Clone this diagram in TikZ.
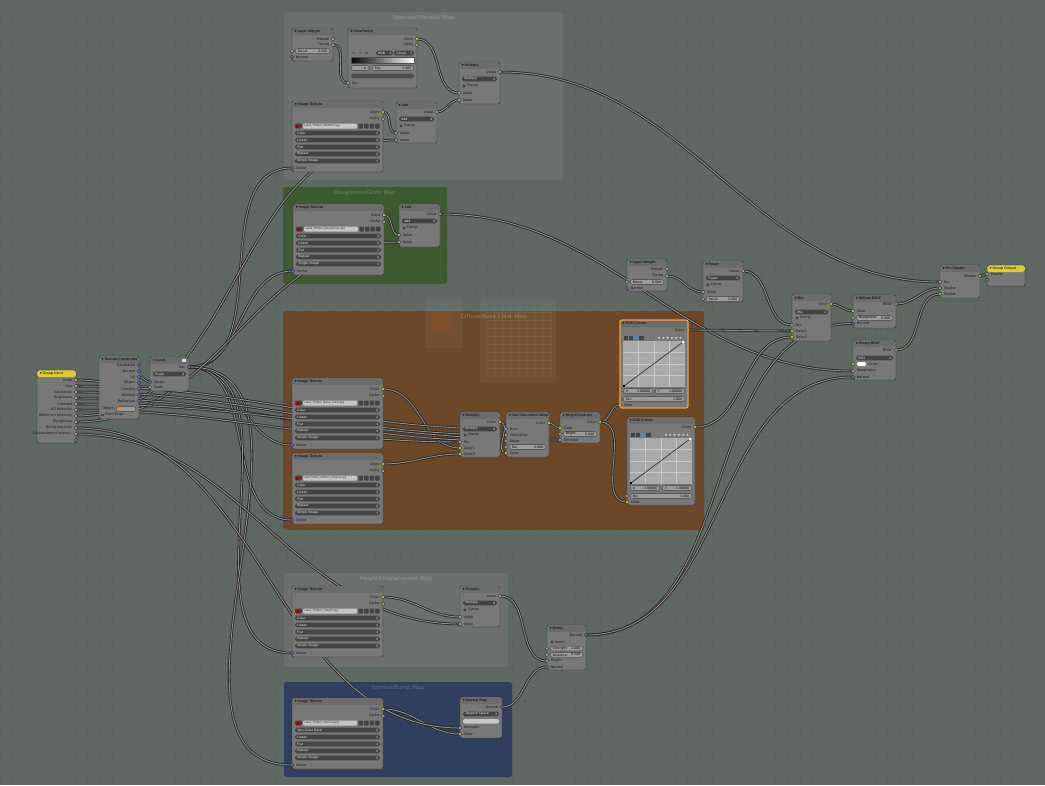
\documentclass[tikz,border=0pt]{standalone}
\usepackage{fontspec}
\setmainfont{DejaVu Sans}
\pgfdeclarelayer{back}
\pgfdeclarelayer{links}
\pgfsetlayers{back,links,main}

\definecolor{bgc}{HTML}{5D6962}
\definecolor{gridc}{HTML}{59655E}
\definecolor{frgray}{HTML}{6E7270}
\definecolor{frgreen}{HTML}{3B5A2C}
\definecolor{frbrown}{HTML}{6E4524}
\definecolor{frblue}{HTML}{2C3C5D}
\definecolor{nbodyc}{HTML}{787878}
\definecolor{nheadc}{HTML}{6C6C6C}
\definecolor{ghead}{HTML}{DDCB3C}
\definecolor{nedge}{HTML}{2E2E2E}
\definecolor{dropc}{HTML}{434343}
\definecolor{numc}{HTML}{9C9C9C}
\definecolor{filec}{HTML}{C6C6C6}
\definecolor{curvec}{HTML}{A9A9A9}
\definecolor{scol}{HTML}{C7C729}
\definecolor{sval}{HTML}{A1A1A1}
\definecolor{svec}{HTML}{6363C7}
\definecolor{sshd}{HTML}{63C763}
\definecolor{selc}{HTML}{F2A13C}
\definecolor{wireout}{HTML}{242424}
\definecolor{wirein}{HTML}{8E8E8E}
\definecolor{tabblue}{HTML}{5680C2}

\tikzset{
  nbody/.style={draw=nedge, line width=0.35pt, fill=nbodyc, rounded corners=1.5pt, inner sep=0, outer sep=0},
  framebox/.style={rounded corners=2pt, inner sep=0, outer sep=0, fill opacity=.93},
  sock/.style={circle, draw=black!80, line width=0.25pt, inner sep=0, minimum size=2.8pt},
  lbl/.style={font=\fontsize{2.6}{3}\selectfont, text=black!90, inner sep=0},
  ttl/.style={font=\fontsize{2.6}{3}\selectfont, text=black, inner sep=0},
  ftxt/.style={font=\fontsize{2.4}{3}\selectfont, text=white!92!black, inner sep=0},
  ntxt/.style={font=\fontsize{2.4}{3}\selectfont, text=black, inner sep=0},
  fname/.style={font=\fontsize{2.1}{3}\selectfont, text=black!85, inner sep=0},
  frtitle/.style={font=\fontsize{4.2}{5}\selectfont, text=white, text opacity=.25, inner sep=0},
  wire/.style={line width=1.9pt, draw=wireout, line cap=round, postaction={draw=wirein, line width=0.7pt}},
}

% node body with header strip and title
\newcommand\nodebox[7]{%
  \node[nbody, anchor=north west, minimum width=#4*0.75pt, minimum height=#5*0.75pt] (#1) at (#2,#3) {};
  \fill[#7, rounded corners=1.4pt] (#2+0.25,#3+0.25) rectangle (#2+#4-0.25,#3+7);
  \node[ttl, anchor=west] at (#2+2.5,#3+3.7) {▾ #6};
}
% output socket on the right edge, label to its left
\newcommand\outsock[5]{%
  \node[sock, fill=#4] (#1) at (#2,#3) {};
  \node[lbl, anchor=east] at (#2-3.5,#3) {#5};
}
% input socket on the left edge, label to its right
\newcommand\insock[5]{%
  \node[sock, fill=#4] (#1) at (#2,#3) {};
  \node[lbl, anchor=west] at (#2+3.5,#3) {#5};
}
% dark menu button
\newcommand\dropf[4]{%
  \fill[dropc, rounded corners=1.3pt] (#1,#2-2.4) rectangle (#1+#3,#2+2.4);
  \node[ftxt, anchor=west] at (#1+2,#2) {#4};
  \node[ftxt, anchor=east] at (#1+#3-1.2,#2) {↕};
}
% light number field
\newcommand\numf[5]{%
  \filldraw[fill=numc, draw=black!75, line width=0.25pt, rounded corners=2pt] (#1,#2-2.4) rectangle (#1+#3,#2+2.4);
  \node[ntxt, anchor=west] at (#1+2.5,#2) {#4};
  \node[ntxt, anchor=east] at (#1+#3-2.5,#2) {#5};
}
% check option
\newcommand\chkbox[3]{%
  \fill[black!75] (#1+2,#2) circle (1.2pt);
  \node[lbl, anchor=west] at (#1+4.5,#2) {#3};
}
% image texture node
\newcommand\imgtex[5]{%
  \nodebox{#1}{#2}{#3}{91}{71}{Image Texture}{nheadc}
  \outsock{#1-col}{#2+91}{#3+11}{scol}{Color}
  \outsock{#1-alp}{#2+91}{#3+18}{sval}{Alpha}
  \fill[dropc, rounded corners=0.8pt] (#2+3,#3+22.5) rectangle (#2+10,#3+27.5);
  \fill[red!65!black] (#2+4.2,#3+23.5) rectangle (#2+6.6,#3+26.5);
  \fill[filec, rounded corners=0.8pt] (#2+11,#3+22.5) rectangle (#2+65,#3+27.5);
  \node[fname, anchor=west] at (#2+12,#3+25) {#4};
  \foreach \k in {0,1,2,3}
    \fill[dropc, rounded corners=0.6pt] (#2+66.5+\k*5.5,#3+22.5) rectangle (#2+71+\k*5.5,#3+27.5);
  \dropf{#2+3}{#3+32}{85}{#5}
  \dropf{#2+3}{#3+39}{85}{Linear}
  \dropf{#2+3}{#3+46}{85}{Flat}
  \dropf{#2+3}{#3+53}{85}{Repeat}
  \dropf{#2+3}{#3+60}{85}{Single Image}
  \insock{#1-vec}{#2}{#3+67}{svec}{Vector}
}
% simple math node (Value out, operation, Clamp, two Value inputs)
\newcommand\mathnode[7]{% name x y w h title op
  \nodebox{#1}{#2}{#3}{#4}{#5}{#6}{nheadc}
  \outsock{#1-out}{#2+#4}{#3+10}{sval}{Value}
  \dropf{#2+3}{#3+17}{#4-6}{#7}
  \chkbox{#2+3}{#3+24}{Clamp}
  \insock{#1-a}{#2}{#3+31}{sval}{Value}
  \insock{#1-b}{#2}{#3+38}{sval}{Value}
}
% RGB curves node
\newcommand\rgbcurves[3]{%
  \nodebox{#1}{#2}{#3}{68}{88}{RGB Curves}{nheadc}
  \outsock{#1-out}{#2+68}{#3+10}{scol}{Color}
  \foreach \k in {0,1,2,3}
    \fill[dropc] (#2+3.5+\k*5.2,#3+15.8) rectangle (#2+8+\k*5.2,#3+19.8);
  \fill[tabblue] (#2+13.9,#3+15.8) rectangle (#2+18.4,#3+19.8);
  \foreach \k in {0,1,2,3,4,5}
    \fill[white!80!black] (#2+39+\k*4.3,#3+17.8) circle (0.9pt);
  \fill[curvec] (#2+3,#3+21) rectangle (#2+65,#3+67);
  \foreach \k in {1,2,3}{
    \draw[white!78!black, line width=0.3pt] (#2+3+\k*15.5,#3+21) -- (#2+3+\k*15.5,#3+67);
    \draw[white!78!black, line width=0.3pt] (#2+3,#3+21+\k*11.5) -- (#2+65,#3+21+\k*11.5);}
  \draw[black!85, line width=0.45pt] (#2+4,#3+66) -- (#2+63,#3+22);
  \fill[black] (#2+3,#3+65) rectangle (#2+5,#3+67);
  \fill[white] (#2+62,#3+21) rectangle (#2+64,#3+23);
  \numf{#2+3}{#3+71}{30}{X}{1.00000}
  \numf{#2+35}{#3+71}{30}{Y}{1.00000}
  \numf{#2+3}{#3+79}{62}{Fac:}{1.000}
  \node[sock, fill=sval] (#1-fac) at (#2,#3+79) {};
  \insock{#1-col}{#2}{#3+85}{scol}{Color}
}
% frame
\newcommand\bframe[7]{%
  \node[framebox, fill=#6, anchor=north west, minimum width=(#4-#2)*0.75pt, minimum height=(#5-#3)*0.75pt] (#1) at (#2,#3) {};
  \node[frtitle] at ({(#2+#4)/2},#3+5.5) {#7};
}

\begin{document}
\begin{tikzpicture}[x=0.75pt,y=-0.75pt]
\useasboundingbox (0,0) rectangle (1045,785);

\begin{pgfonlayer}{back}
  \fill[bgc] (0,0) rectangle (1045,785);
  \foreach \g in {0,12.5,...,1045} \draw[gridc, line width=0.25pt] (\g,0) -- (\g,785);
  \foreach \g in {0,12.5,...,785} \draw[gridc, line width=0.25pt] (0,\g) -- (1045,\g);
  \bframe{frspec}{284}{12}{563}{180}{frgray}{Specular/Metallic Map}
  \bframe{frrough}{283}{187}{447}{284}{frgreen}{Roughness/Gloss Map}
  \bframe{frbase}{283}{311}{704}{530}{frbrown}{Diffuse/Base Color Map}
  \bframe{frheight}{284}{573}{508}{667}{frgray}{Height/Displacement Map}
  \bframe{frnormal}{284}{682}{512}{777}{frblue}{Normal/Bump Map}
  % faint hidden nodes behind the base colour frame
  \fill[white, opacity=.05, rounded corners=1.5pt] (425,300) rectangle (463,348);
  \fill[white, opacity=.05, rounded corners=1.5pt] (480,299) rectangle (556,383);
  \fill[orange!60!red, opacity=.10] (441,322) circle (8pt);
  \foreach \k in {0,...,7} \draw[white, opacity=.06, line width=0.3pt] (485,312+\k*8) -- (552,312+\k*8);
  \foreach \k in {0,...,8} \draw[white, opacity=.06, line width=0.3pt] (486+\k*8,306) -- (486+\k*8,378);
\end{pgfonlayer}

% ---------------- inputs ----------------
\nodebox{gin}{37}{370}{39}{73}{Group Input}{ghead}
\outsock{gin-scale}{76}{380}{sval}{Scale}
\outsock{gin-hue}{76}{386}{sval}{Hue}
\outsock{gin-sat}{76}{392}{sval}{Saturation}
\outsock{gin-bri}{76}{398}{sval}{Brightness}
\outsock{gin-con}{76}{404}{sval}{Contrast}
\outsock{gin-ao}{76}{410}{sval}{AO Intensity}
\outsock{gin-refl}{76}{416}{sval}{Reflection Intensity}
\outsock{gin-rough}{76}{422}{sval}{Roughness}
\outsock{gin-bump}{76}{428}{sval}{Bump Intensity}
\outsock{gin-disp}{76}{434}{sval}{Displacement Intens...}
\node[sock, fill=sval!40!bgc] (gin-extra) at (76,440) {};

\nodebox{tco}{99}{356}{40}{63}{Texture Coordinate}{nheadc}
\outsock{tco-gen}{139}{365}{svec}{Generated}
\outsock{tco-nor}{139}{371}{svec}{Normal}
\outsock{tco-uv}{139}{377}{svec}{UV}
\outsock{tco-obj}{139}{383}{svec}{Object}
\outsock{tco-cam}{139}{389}{svec}{Camera}
\outsock{tco-win}{139}{395}{svec}{Window}
\outsock{tco-ref}{139}{401}{svec}{Reflection}
\node[lbl, anchor=west] at (102,409) {Object:};
\filldraw[fill=numc, draw=black!75, line width=0.25pt, rounded corners=2pt] (116,406.6) rectangle (136,411.4);
\fill[orange] (118,407.6) rectangle (121,410.4);
\fill[black!70] (101,413.8) rectangle (103.6,416.4);
\node[lbl, anchor=west] at (105,415) {From Dupli};

\nodebox{scl}{150}{357}{39}{34}{Scale}{nheadc}
\fill[white!85!black] (182,358.5) rectangle (186,362);
\outsock{scl-out}{189}{367}{svec}{Vec}
\dropf{153}{374}{33}{Scale}
\insock{scl-vec}{150}{382}{svec}{Vector}
\insock{scl-scale}{150}{387}{sval}{Scale}

% ---------------- specular / metallic ----------------
\nodebox{lw1}{292}{28}{41}{33}{Layer Weight}{nheadc}
\outsock{lw1-fres}{333}{39}{sval}{Fresnel}
\outsock{lw1-fac}{333}{45}{sval}{Facing}
\numf{295}{51}{35}{Blend:}{0.500}
\node[sock, fill=sval] (lw1-blend) at (292,51) {};
\insock{lw1-nor}{292}{57}{svec}{Normal}

\nodebox{cr}{348}{28}{69}{60}{ColorRamp}{nheadc}
\outsock{cr-col}{417}{39}{scol}{Color}
\outsock{cr-alp}{417}{45}{sval}{Alpha}
\node[lbl, anchor=west] at (352,53) {+\quad −\quad ⇄};
\dropf{376}{53}{17}{RGB}
\dropf{394}{53}{20}{Linear}
\shade[left color=black, right color=white] (351,57.5) rectangle (414,63);
\draw[black!70, line width=0.25pt] (351,57.5) rectangle (414,63);
\numf{351}{68}{18}{}{0}
\numf{372}{68}{42}{Pos:}{1.000}
\fill[dropc!80!nbodyc, rounded corners=1.3pt] (351,73.6) rectangle (414,78.4);
\insock{cr-fac}{348}{83}{sval}{Fac}

\mathnode{mul1}{459}{62}{41}{42}{Multiply}{Multiply}
\imgtex{it1}{292}{101}{Land\_Timber\_Metallic.jpg}{Color}
\mathnode{add1}{396}{102}{41}{41}{Add}{Add}

% ---------------- roughness ----------------
\imgtex{it2}{293}{204}{Land\_Timber\_Roughness.jpg}{Color}
\mathnode{add2}{399}{204}{41}{43}{Add}{Add}

% ---------------- base colour ----------------
\imgtex{it3}{292}{378}{Land\_Timber\_Base\_Color.jpg}{Color}
\imgtex{it4}{292}{453}{\scalebox{.82}[1]{Land\_Timber\_Ambient\_Occlusion.jpg}}{Color}

\nodebox{mix1}{460}{412}{40}{45}{Multiply}{nheadc}
\outsock{mix1-out}{500}{422}{scol}{Color}
\dropf{463}{429}{34}{Multiply}
\chkbox{463}{435}{Clamp}
\insock{mix1-fac}{460}{442}{sval}{Fac}
\insock{mix1-c1}{460}{448}{scol}{Color1}
\insock{mix1-c2}{460}{454}{scol}{Color2}

\nodebox{hsv}{506}{412}{43}{45}{Hue Saturation Value}{nheadc}
\outsock{hsv-out}{549}{423}{scol}{Color}
\insock{hsv-hue}{506}{429}{sval}{Hue}
\insock{hsv-sat}{506}{435}{sval}{Saturation}
\insock{hsv-val}{506}{441}{sval}{Value}
\numf{509}{447}{37}{Fac:}{1.000}
\node[sock, fill=sval] (hsv-fac) at (506,447) {};
\insock{hsv-col}{506}{453}{scol}{Color}

\nodebox{bc}{560}{412}{40}{31}{Bright/Contrast}{nheadc}
\outsock{bc-out}{600}{422}{scol}{Color}
\insock{bc-col}{560}{428}{scol}{Color}
\numf{563}{434}{34}{Bright:}{0.000}
\node[sock, fill=sval] (bc-bri) at (560,434) {};
\insock{bc-con}{560}{440}{sval}{Contrast}

\rgbcurves{rc1}{620}{320}
\draw[selc, line width=0.9pt, rounded corners=1.5pt] (620,320) rectangle (688,408);
\rgbcurves{rc2}{627}{417}

% ---------------- shading ----------------
\nodebox{lw2}{627}{259}{40}{32}{Layer Weight}{nheadc}
\outsock{lw2-fres}{667}{269}{sval}{Fresnel}
\outsock{lw2-fac}{667}{276}{sval}{Facing}
\numf{630}{282}{34}{Blend:}{0.500}
\node[sock, fill=sval] (lw2-blend) at (627,282) {};
\insock{lw2-nor}{627}{288}{svec}{Normal}

\nodebox{pow}{703}{261}{40}{41}{Power}{nheadc}
\outsock{pow-out}{743}{271}{sval}{Value}
\dropf{706}{278}{34}{Power}
\chkbox{706}{285}{Clamp}
\insock{pow-a}{703}{292}{sval}{Value}
\numf{706}{299}{34}{Value:}{3.000}
\node[sock, fill=sval] (pow-b) at (703,299) {};

\nodebox{mix2}{792}{294}{39}{47}{Mix}{nheadc}
\outsock{mix2-out}{831}{304}{scol}{Color}
\dropf{795}{312}{33}{Mix}
\chkbox{795}{318}{Clamp}
\insock{mix2-fac}{792}{325}{sval}{Fac}
\insock{mix2-c1}{792}{331}{scol}{Color1}
\insock{mix2-c2}{792}{337}{scol}{Color2}

\nodebox{dif}{853}{295}{43}{33}{Diffuse BSDF}{nheadc}
\outsock{dif-out}{896}{304}{sshd}{BSDF}
\insock{dif-col}{853}{311}{scol}{Color}
\numf{856}{318}{37}{Roughness:}{0.000}
\node[sock, fill=sval] (dif-rough) at (853,318) {};
\insock{dif-nor}{853}{323.5}{svec}{Normal}

\nodebox{glo}{853}{340}{43}{40}{Glossy BSDF}{nheadc}
\outsock{glo-out}{896}{350}{sshd}{BSDF}
\dropf{856}{358}{37}{GGX}
\node[sock, fill=scol] (glo-col) at (853,364) {};
\fill[white, rounded corners=1pt] (857,362) rectangle (866,366);
\node[lbl, anchor=west] at (868,364) {Color};
\insock{glo-rough}{853}{371}{sval}{Roughness}
\insock{glo-nor}{853}{377}{svec}{Normal}

\nodebox{mixs}{940}{265}{40}{33}{Mix Shader}{nheadc}
\outsock{mixs-out}{980}{276}{sshd}{Shader}
\insock{mixs-fac}{940}{282}{sval}{Fac}
\insock{mixs-s1}{940}{288}{sshd}{Shader}
\insock{mixs-s2}{940}{294}{sshd}{Shader}

\nodebox{gout}{987}{265}{38}{21}{Group Output}{ghead}
\insock{gout-sh}{987}{274}{sshd}{Shader}
\node[sock, fill=sval!40!bgc] (gout-extra) at (987,280) {};

% ---------------- height / displacement ----------------
\imgtex{it5}{292}{586}{Land\_Timber\_Height.jpg}{Color}
\mathnode{mul2}{460}{586}{40}{41}{Multiply}{Multiply}

\nodebox{bump}{547}{625}{39}{45}{Bump}{nheadc}
\outsock{bump-out}{586}{635}{svec}{Normal}
\chkbox{550}{642}{Invert}
\numf{550}{648.5}{33}{Strength:}{1.000}
\node[sock, fill=sval] (bump-str) at (547,648.5) {};
\numf{550}{654.8}{33}{Distance:}{0.100}
\node[sock, fill=sval] (bump-dist) at (547,654.8) {};
\insock{bump-h}{547}{661}{sval}{Height}
\insock{bump-nor}{547}{667}{svec}{Normal}

% ---------------- normal map ----------------
\imgtex{it6}{292}{698}{Land\_Timber\_Normal.jpg}{Non-Color Data}
\nodebox{nmap}{460}{697}{42}{41}{Normal Map}{nheadc}
\outsock{nmap-out}{502}{707}{svec}{Normal}
\dropf{463}{714}{36}{Tangent Space}
\fill[filec, rounded corners=1.3pt] (463,719) rectangle (499,723.6);
\insock{nmap-str}{460}{728}{sval}{Strength}
\insock{nmap-col}{460}{734}{scol}{Color}

% ---------------- links ----------------
\begin{pgfonlayer}{links}
  \draw[wire] (tco-uv.center) to[out=0,in=180] (scl-vec.center);
  \draw[wire] (gin-scale.center) to[out=0,in=180] (scl-scale.center);
  \foreach \t in {it1,it2,it3,it4,it5,it6}
    \draw[wire] (scl-out.center) to[out=0,in=180] (\t-vec.center);
  \draw[wire] (lw1-fac.center) to[out=0,in=180] (cr-fac.center);
  \draw[wire] (cr-col.center) to[out=0,in=180] (mul1-a.center);
  \draw[wire] (it1-col.center) to[out=0,in=180] (add1-a.center);
  \draw[wire] (add1-out.center) to[out=0,in=180] (mul1-b.center);
  \draw[wire] (gin-refl.center) to[out=0,in=180] (add1-b.center);
  \draw[wire] (mul1-out.center) to[out=0,in=180] (mixs-fac.center);
  \draw[wire] (it2-col.center) to[out=0,in=180] (add2-a.center);
  \draw[wire] (gin-rough.center) to[out=0,in=180] (add2-b.center);
  \draw[wire] (add2-out.center) to[out=0,in=180] (glo-rough.center);
  \draw[wire] (it3-col.center) to[out=0,in=180] (mix1-c1.center);
  \draw[wire] (it4-col.center) to[out=0,in=180] (mix1-c2.center);
  \draw[wire] (gin-ao.center) to[out=0,in=180] (mix1-fac.center);
  \draw[wire] (gin-hue.center) to[out=0,in=180] (hsv-hue.center);
  \draw[wire] (gin-sat.center) to[out=0,in=180] (hsv-sat.center);
  \draw[wire] (gin-bri.center) to[out=0,in=180] (hsv-val.center);
  \draw[wire] (gin-con.center) to[out=0,in=180] (bc-con.center);
  \draw[wire] (mix1-out.center) to[out=0,in=180] (hsv-col.center);
  \draw[wire] (hsv-out.center) to[out=0,in=180] (bc-col.center);
  \draw[wire] (bc-out.center) to[out=0,in=180] (rc1-col.center);
  \draw[wire] (bc-out.center) to[out=0,in=180] (rc2-col.center);
  \draw[wire] (rc1-out.center) to[out=0,in=180] (mix2-c1.center);
  \draw[wire] (rc2-out.center) to[out=0,in=180] (mix2-c2.center);
  \draw[wire] (lw2-fac.center) to[out=0,in=180] (pow-a.center);
  \draw[wire] (pow-out.center) to[out=0,in=180] (mix2-fac.center);
  \draw[wire] (mix2-out.center) to[out=0,in=180] (dif-col.center);
  \draw[wire] (dif-out.center) to[out=0,in=180] (mixs-s1.center);
  \draw[wire] (glo-out.center) to[out=0,in=180] (mixs-s2.center);
  \draw[wire] (mixs-out.center) to[out=0,in=180] (gout-sh.center);
  \draw[wire] (it5-col.center) to[out=0,in=180] (mul2-a.center);
  \draw[wire] (gin-disp.center) to[out=0,in=180] (mul2-b.center);
  \draw[wire] (mul2-out.center) to[out=0,in=180] (bump-h.center);
  \draw[wire] (it6-col.center) to[out=0,in=180] (nmap-col.center);
  \draw[wire] (gin-bump.center) to[out=0,in=180] (nmap-str.center);
  \draw[wire] (nmap-out.center) to[out=0,in=180] (bump-nor.center);
  \draw[wire] (bump-out.center) to[out=0,in=180] (dif-nor.center);
  \draw[wire] (bump-out.center) to[out=0,in=180] (glo-nor.center);
\end{pgfonlayer}
\end{tikzpicture}
\end{document}
